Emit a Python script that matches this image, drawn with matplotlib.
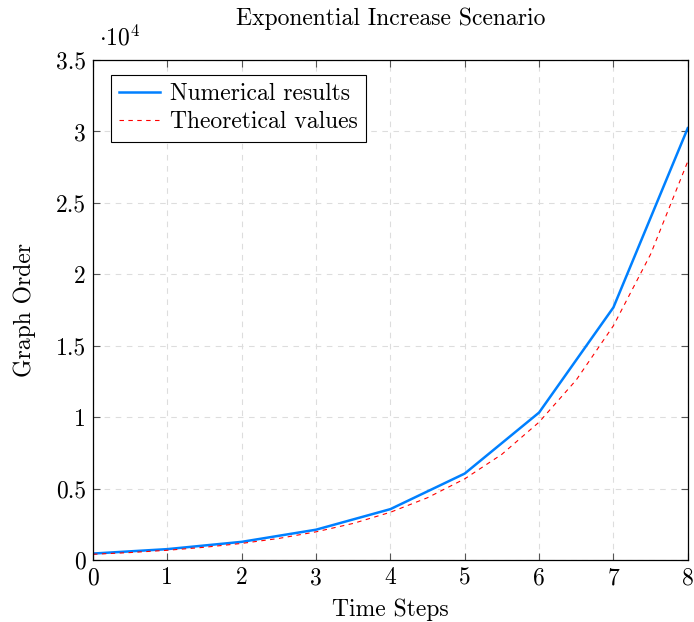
import numpy as np
import matplotlib
matplotlib.use("Agg")
import matplotlib.pyplot as plt

plt.rcParams['font.family'] = 'serif'
plt.rcParams['font.serif'] = ['cmr10']
plt.rcParams['mathtext.fontset'] = 'cm'
plt.rcParams['axes.unicode_minus'] = False

# data
steps = [0, 1, 2, 3, 4, 5, 6, 7, 8]
numerical = [450, 760, 1270, 2120, 3560, 6050, 10320, 17680, 30230]

theory_t = [0, 0.5, 1, 1.5, 2, 2.5, 3, 3.5, 4, 4.5, 5, 5.5, 6, 6.5, 7, 7.5, 8]
theory = [400, 520, 680, 890, 1160, 1510, 1970, 2560, 3340, 4360, 5680,
          7400, 9650, 12600, 16400, 21400, 27900]

yticks = [0, 5000, 10000, 15000, 20000, 25000, 30000, 35000]

fs = 17
fig = plt.figure(figsize=(6.94, 6.22), dpi=100)
ax = fig.add_axes([0.134, 0.0997, 0.857, 0.8038])

ax.plot(steps, numerical, color='#0080ff', lw=1.8, label='Numerical results')
ax.plot(theory_t, theory, color='red', lw=0.8, ls=(0, (4, 4)), label='Theoretical values')

ax.set_xlim(0, 8)
ax.set_ylim(0, 35000)
ax.set_xticks(steps)
ax.set_yticks(yticks)
ax.set_yticklabels(['%g' % (v / 1e4) for v in yticks])
ax.tick_params(direction='in', top=True, right=True, labelsize=fs, length=5,
               color='#555555', pad=5)
ax.grid(True, ls=(0, (5, 5)), color='#dddddd', lw=0.8)
for s in ax.spines.values():
    s.set_linewidth(0.9)

ax.text(0.01, 1.02, r'$\cdot 10^4$', transform=ax.transAxes, fontsize=fs,
        ha='left', va='bottom')
ax.set_title('Exponential Increase Scenario', fontsize=fs, pad=25)
ax.set_xlabel('Time Steps', fontsize=fs, labelpad=7)
ax.set_ylabel('Graph Order', fontsize=fs, labelpad=14)

leg = ax.legend(loc='upper left', fontsize=fs, fancybox=False, framealpha=1,
                edgecolor='black', borderpad=0.35, handlelength=1.75,
                handletextpad=0.4, labelspacing=0.25, borderaxespad=0,
                bbox_to_anchor=(0.03, 0.97))
leg.get_frame().set_linewidth(0.8)

fig.savefig('out.png', dpi=100)
